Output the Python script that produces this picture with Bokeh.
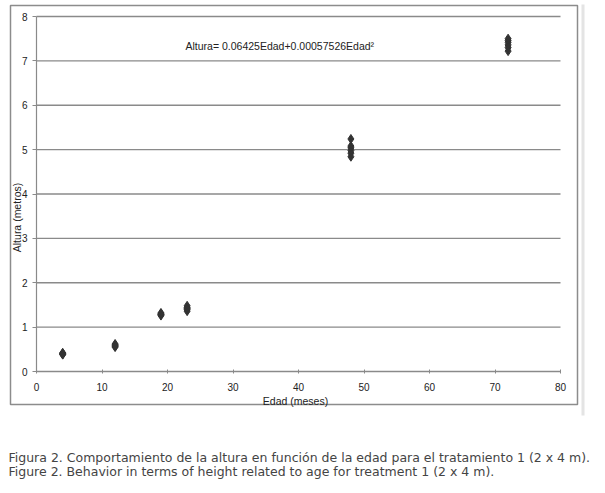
import math
from bokeh.plotting import figure
from bokeh.models import Range1d, FixedTicker, Label, ColumnDataSource
from bokeh.embed import file_html
from bokeh.resources import INLINE

# ---- data ----
edad_4 = [4, 4, 4, 4, 4]
altura_4 = [0.38, 0.40, 0.41, 0.42, 0.39]
edad_12 = [12, 12, 12, 12, 12]
altura_12 = [0.55, 0.58, 0.60, 0.62, 0.57]
edad_19 = [19, 19, 19, 19, 19]
altura_19 = [1.26, 1.28, 1.30, 1.32, 1.29]
edad_23 = [23, 23, 23, 23, 23]
altura_23 = [1.36, 1.40, 1.44, 1.48, 1.42]
edad_48 = [48, 48, 48, 48, 48, 48]
altura_48 = [4.84, 4.92, 4.98, 5.04, 5.08, 5.24]
edad_72 = [72, 72, 72, 72, 72, 72]
altura_72 = [7.22, 7.30, 7.36, 7.42, 7.46, 7.50]

x_ticks = [0, 10, 20, 30, 40, 50, 60, 70, 80]
y_ticks = [0, 1, 2, 3, 4, 5, 6, 7, 8]

equation = "Altura= 0.06425Edad+0.00057526Edad\u00b2"
x_title = "Edad (meses)"
y_title = "Altura (metros)"
caption_es = "Figura 2. Comportamiento de la altura en funci\u00f3n de la edad para el tratamiento 1 (2 x 4 m)."
caption_en = "Figure 2. Behavior in terms of height related to age for treatment 1 (2 x 4 m)."

edad = edad_4 + edad_12 + edad_19 + edad_23 + edad_48 + edad_72
altura = altura_4 + altura_12 + altura_19 + altura_23 + altura_48 + altura_72

# ---- layout (pixel geometry of the plotting area inside the canvas) ----
W, H = 597, 485
PX0, PX1 = 36, 560      # pixel x of x_ticks[0], x_ticks[-1]
PY0, PY1 = 371, 16      # pixel y of y_ticks[0], y_ticks[-1]
XA, XB = x_ticks[0], x_ticks[-1]
YA, YB = y_ticks[0], y_ticks[-1]
kx = (XB - XA) / (PX1 - PX0)
ky = (YB - YA) / (PY0 - PY1)


def dx(px):
    return XA + (px - PX0) * kx


def dy(py):
    return YA + (PY0 - py) * ky


p = figure(width=W, height=H, output_backend="svg", toolbar_location=None,
           x_range=Range1d(dx(0), dx(W)), y_range=Range1d(dy(H), dy(0)),
           min_border=0)
p.outline_line_color = None
p.background_fill_color = "white"
p.border_fill_color = "white"
p.xgrid.visible = False
p.ygrid.visible = False

# chart border (spreadsheet chart area) and faint sheet strip at its right
p.quad(left=[dx(581)], right=[dx(584)], top=[dy(4)], bottom=[dy(415)],
       fill_color="#e4e4e4", line_color=None)
p.quad(left=[dx(10)], right=[dx(577)], top=[dy(5)], bottom=[dy(404)],
       fill_color=None, line_color="#8c8c8c", line_width=1.5)

# horizontal gridlines
p.segment(x0=[XA] * len(y_ticks), x1=[XB] * len(y_ticks), y0=y_ticks, y1=y_ticks,
          line_color="#8a8a8a", line_width=1.3)

src = ColumnDataSource(dict(edad=edad, altura=altura))
p.scatter("edad", "altura", source=src, marker="diamond", size=9,
          color="#333333")

font = "Liberation Sans"
p.xaxis.ticker = FixedTicker(ticks=x_ticks)
p.yaxis.ticker = FixedTicker(ticks=y_ticks)
p.xaxis.fixed_location = YA
p.yaxis.fixed_location = XA
p.xaxis.bounds = (XA, XB)
p.yaxis.bounds = (YA, YB)

for ax in (p.xaxis, p.yaxis):
    ax.axis_line_color = "#8a8a8a"
    ax.axis_line_width = 1.2
    ax.major_tick_line_color = "#8a8a8a"
    ax.minor_tick_line_color = None
    ax.major_label_text_font = font
    ax.major_label_text_font_size = "10px"
    ax.major_label_text_color = "#222222"

p.xaxis.major_tick_in = 2
p.xaxis.major_tick_out = 2
p.xaxis.major_label_standoff = 9
p.yaxis.major_tick_in = 0
p.yaxis.major_tick_out = 4
p.yaxis.major_label_standoff = 5

p.add_layout(Label(x=dx(185), y=dy(45.5), text=equation, text_font=font,
                   text_font_size="10.5px", text_color="#222222",
                   text_baseline="middle", text_align="left"))
p.add_layout(Label(x=dx(295), y=dy(400), text=x_title, text_font=font,
                   text_font_size="10.5px", text_color="#222222",
                   text_baseline="middle", text_align="center"))
p.add_layout(Label(x=dx(16), y=dy(217), text=y_title, text_font=font,
                   text_font_size="10.5px", text_color="#222222",
                   text_baseline="middle", text_align="center", angle=math.pi / 2))

cap_font = "DejaVu Sans"
p.add_layout(Label(x=dx(8), y=dy(457), text=caption_es, text_font=cap_font,
                   text_font_size="12.5px", text_color="#444444",
                   text_baseline="middle", text_align="left"))
p.add_layout(Label(x=dx(8), y=dy(471), text=caption_en, text_font=cap_font,
                   text_font_size="12.5px", text_color="#444444",
                   text_baseline="middle", text_align="left"))

open("out.html", "w").write(file_html(p, INLINE))
